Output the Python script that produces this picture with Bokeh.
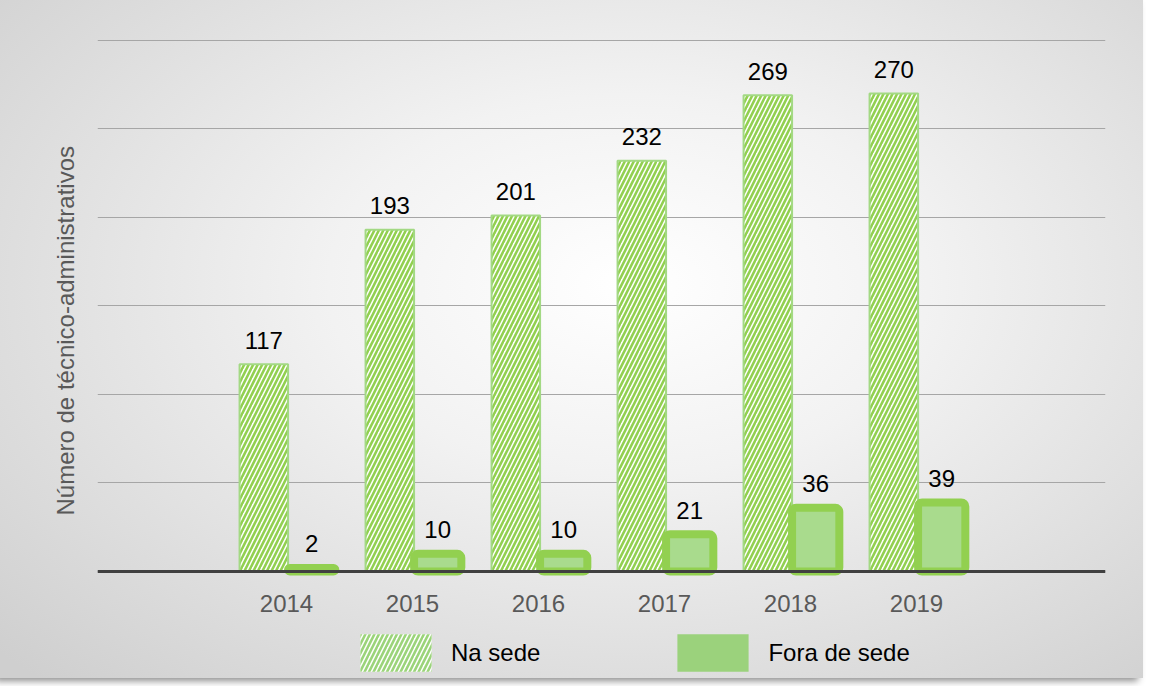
import numpy as np
from bokeh.plotting import figure
from bokeh.models import ColumnDataSource, Range1d, Legend, LegendItem, FixedTicker, Title
from bokeh.embed import file_html
from bokeh.resources import INLINE
from bokeh.core.properties import value

# ---- data ----
years = ["2014", "2015", "2016", "2017", "2018", "2019"]
na_sede = [117, 193, 201, 232, 269, 270]
fora_sede = [2, 10, 10, 21, 36, 39]
y_grid = [0, 50, 100, 150, 200, 250, 300]
y_title = "Número de técnico-administrativos"
series_names = ["Na sede", "Fora de sede"]

FONT = "Liberation Sans"
xpos = list(range(len(years)))

na_src = ColumnDataSource(dict(x=[i - 0.18 for i in xpos], top=na_sede,
                               lab=[str(v) for v in na_sede]))
fo_src = ColumnDataSource(dict(x=[i + 0.2 for i in xpos], top=fora_sede,
                               lab=[str(v) for v in fora_sede]))

p = figure(width=1143, height=678, output_backend="svg", toolbar_location=None,
           x_range=Range1d(-1.5, 6.5), y_range=Range1d(-60.4, 301),
           min_border_left=97, min_border_right=38, min_border_top=38,
           min_border_bottom=0)

p.border_fill_alpha = 0
p.background_fill_alpha = 0
p.outline_line_color = None
p.styles = {
    "background": "radial-gradient(ellipse 75% 80% at 55% 42%, #ffffff 0%, #f2f2f2 35%, #cfcfcf 100%)",
    "box-shadow": "-5px 3px 7px rgba(0,0,0,0.45)",
}

# bars
p.vbar(x="x", top="top", width=0.385, source=na_src, fill_color="white",
       hatch_pattern="/", hatch_color="#92d050", hatch_scale=9, hatch_weight=2.6,
       line_color="#a3d984", line_width=2)
p.vbar(x="x", top="top", width=0.375, source=fo_src, fill_color="#a9db8d",
       line_color="#92d050", line_width=8, border_radius=4)

# data labels
p.text(x="x", y="top", text="lab", source=na_src, text_font=value(FONT),
       text_font_size="24px", text_color="#000000", text_align="center",
       text_baseline="middle", y_offset=-24)
p.text(x="x", y="top", text="lab", source=fo_src, text_font=value(FONT),
       text_font_size="24px", text_color="#000000", text_align="center",
       text_baseline="middle", y_offset=-24)

# axes
p.xaxis.fixed_location = 0
p.xaxis.ticker = FixedTicker(ticks=xpos)
p.xaxis.major_label_overrides = {i: y for i, y in zip(xpos, years)}
p.xaxis.axis_line_color = "#404040"
p.xaxis.axis_line_width = 3
p.xaxis.major_tick_line_color = None
p.xaxis.minor_tick_line_color = None
p.xaxis.major_label_text_font = FONT
p.xaxis.major_label_text_font_size = "24px"
p.xaxis.major_label_text_color = "#595959"
p.xaxis.major_label_standoff = 17

p.yaxis.ticker = FixedTicker(ticks=y_grid)
p.yaxis.axis_line_color = None
p.yaxis.major_tick_line_color = None
p.yaxis.minor_tick_line_color = None
p.yaxis.major_label_text_font_size = "0px"
p.yaxis.major_label_standoff = 0

ytitle = Title(text=y_title, align="left", offset=163, text_font=FONT,
               text_font_style="normal", text_font_size="24px",
               text_color="#595959", standoff=26)
p.add_layout(ytitle, "left")

p.xgrid.grid_line_color = None
p.ygrid.grid_line_color = "#a6a6a6"
p.ygrid.grid_line_width = 1

# legend (proxy renderers carry only the swatch styles; NaN data draws nothing)
nan = float("nan")
leg_na = p.vbar(x=[nan], top=[nan], width=0.3, fill_color="white", hatch_pattern="/",
                hatch_color="#9bd47a", hatch_scale=9, hatch_weight=2.6, line_color=None)
leg_fo = p.vbar(x=[nan], top=[nan], width=0.3, fill_color="#9bd27c", line_color=None)
legend = Legend(items=[LegendItem(label=series_names[0], renderers=[leg_na]),
                       LegendItem(label=series_names[1], renderers=[leg_fo])],
                orientation="horizontal", location=(254, 2),
                glyph_width=89, glyph_height=47, label_standoff=11, spacing=128,
                padding=0, margin=0, border_line_color=None,
                background_fill_alpha=0, label_text_font=FONT,
                label_text_font_size="24px", label_text_color="#000000")
p.add_layout(legend)

open("out.html", "w").write(file_html(p, INLINE))
